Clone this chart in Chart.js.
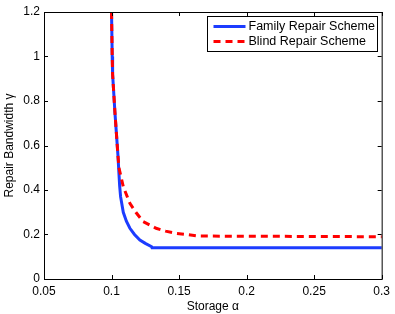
<!DOCTYPE html>
<html lang="en">
<head>
<meta charset="UTF-8">
<title>Repair Bandwidth vs Storage</title>
<script src="https://cdn.jsdelivr.net/npm/chart.js"></script>
<style>
  html, body { margin: 0; padding: 0; background: #fff; }
  #wrap { width: 395px; height: 314px; }
</style>
</head>
<body>
<div id="wrap"><canvas id="chart" width="395" height="314"></canvas></div>
<script>
// values
const familyAlpha = [0.1, 0.1005, 0.1008, 0.1025, 0.1047, 0.106, 0.1067, 0.1087, 0.111, 0.1136, 0.117, 0.121, 0.125, 0.1297, 0.13, 0.3];
const familyGamma = [1.2, 1.0, 0.92, 0.75, 0.56, 0.42, 0.37, 0.3, 0.26, 0.228, 0.2, 0.175, 0.16, 0.145, 0.14, 0.14];
const blindAlpha = [0.1, 0.1005, 0.1008, 0.1025, 0.1047, 0.1055, 0.1087, 0.1136, 0.118, 0.1234, 0.133, 0.14, 0.148, 0.165, 0.3];
const blindGamma = [1.2, 1.0, 0.92, 0.75, 0.56, 0.5, 0.415, 0.34, 0.3, 0.258, 0.228, 0.215, 0.205, 0.193, 0.19];
const xTicks = [0.05, 0.1, 0.15, 0.2, 0.25, 0.3];
const yTicks = [0, 0.2, 0.4, 0.6, 0.8, 1, 1.2];

const pts = (xs, ys) => xs.map((x, i) => ({ x: x, y: ys[i] }));
const FONT = '"Liberation Sans", Arial, sans-serif';

// box round the plot, inward ticks on all four sides, legend inside the plot
const matlabBox = {
  id: 'matlabBox',
  afterDatasetsDraw(chart) {
    const { ctx, chartArea: a, scales } = chart;
    ctx.save();
    ctx.strokeStyle = '#000';
    ctx.lineWidth = 1;
    ctx.strokeRect(a.left + 0.5, a.top + 0.5, a.right - a.left, a.bottom - a.top);
    ctx.beginPath();
    xTicks.forEach(v => {
      const px = Math.round(scales.x.getPixelForValue(v)) + 0.5;
      ctx.moveTo(px, a.bottom); ctx.lineTo(px, a.bottom - 4);
      ctx.moveTo(px, a.top); ctx.lineTo(px, a.top + 4);
    });
    yTicks.forEach(v => {
      const py = Math.round(scales.y.getPixelForValue(v)) + 0.5;
      ctx.moveTo(a.left, py); ctx.lineTo(a.left + 4, py);
      ctx.moveTo(a.right, py); ctx.lineTo(a.right - 4, py);
    });
    ctx.stroke();

    // legend
    const bx = 207.5, by = 16.5, bw = 170, bh = 35;
    ctx.fillStyle = '#fff';
    ctx.fillRect(bx, by, bw, bh);
    ctx.strokeRect(bx, by, bw, bh);
    ctx.font = '12.5px ' + FONT;
    ctx.textBaseline = 'middle';
    chart.data.datasets.forEach((ds, i) => {
      const yy = by + 10 + i * 15;
      ctx.strokeStyle = ds.borderColor;
      ctx.lineWidth = 3;
      ctx.setLineDash(ds.borderDash || []);
      ctx.beginPath();
      ctx.moveTo(bx + 6, yy); ctx.lineTo(bx + 38, yy);
      ctx.stroke();
      ctx.setLineDash([]);
      ctx.fillStyle = '#000';
      ctx.fillText(ds.label, bx + 41, yy + 0.5);
    });
    ctx.restore();
  }
};

new Chart(document.getElementById('chart').getContext('2d'), {
  type: 'line',
  data: {
    datasets: [
      {
        label: 'Family Repair Scheme',
        data: pts(familyAlpha, familyGamma),
        borderColor: '#1c3cff',
        borderWidth: 3,
        pointRadius: 0,
        tension: 0,
        fill: false,
        order: 2
      },
      {
        label: 'Blind Repair Scheme',
        data: pts(blindAlpha, blindGamma),
        borderColor: '#ff0000',
        borderWidth: 3,
        borderDash: [7, 5],
        pointRadius: 0,
        tension: 0,
        fill: false,
        order: 1
      }
    ]
  },
  options: {
    responsive: false,
    animation: false,
    clip: false,
    layout: { padding: { left: 0, top: 12, right: 13, bottom: 0 } },
    plugins: { legend: { display: false }, tooltip: { enabled: false } },
    scales: {
      x: {
        type: 'linear',
        min: 0.05,
        max: 0.3,
        afterBuildTicks: s => { s.ticks = xTicks.map(v => ({ value: v })); },
        afterFit: s => { s.height = 35; },
        grid: { display: false, drawTicks: false },
        border: { display: false },
        ticks: {
          color: '#000',
          padding: 5,
          maxRotation: 0,
          font: { family: FONT, size: 12 },
          callback: v => String(v)
        },
        title: {
          display: true,
          text: 'Storage α',
          color: '#000',
          padding: { top: 0, bottom: 0 },
          font: { family: FONT, size: 12 }
        }
      },
      y: {
        type: 'linear',
        min: 0,
        max: 1.2,
        afterBuildTicks: s => { s.ticks = yTicks.map(v => ({ value: v })); },
        afterFit: s => { s.width = 44; },
        grid: { display: false, drawTicks: false },
        border: { display: false },
        ticks: {
          color: '#000',
          padding: 4,
          font: { family: FONT, size: 12 },
          callback: v => String(v)
        },
        title: {
          display: true,
          text: 'Repair Bandwidth γ',
          color: '#000',
          padding: { top: 2, bottom: 2 },
          font: { family: FONT, size: 12 }
        }
      }
    }
  },
  plugins: [matlabBox]
});
</script>
</body>
</html>
